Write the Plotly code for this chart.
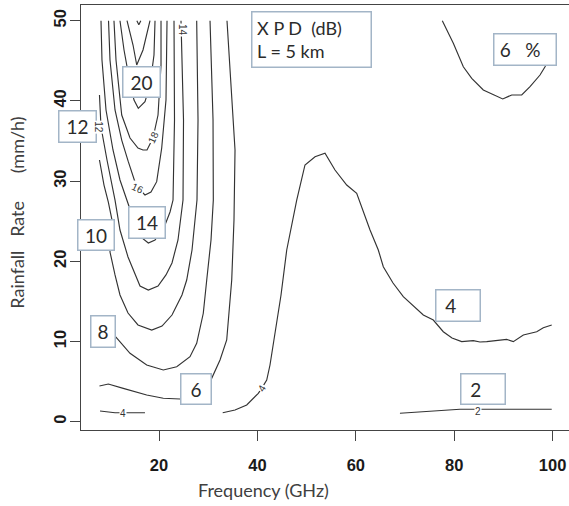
import plotly.graph_objects as go

# ---------------- data (frequency GHz, rain rate mm/h) ----------------
levels = [24, 22, 20, 18, 16, 14, 12, 10, 8, 6, 4, 4, 6, 2]

c24_f = [15.5, 15.9, 16.3]
c24_r = [50.0, 49.5, 50.0]

c22_f = [13.50, 14.72, 15.47, 16.75, 18.17]
c22_r = [50.0, 46.97, 44.48, 46.35, 50.0]

c20_f = [12.07, 12.89, 14.11, 14.92, 15.79, 17.15, 18.17, 18.98, 19.19]
c20_r = [50.0, 46.35, 42.23, 40.11, 39.08, 39.90, 41.98, 45.72, 50.0]

c18_f = [10.85, 11.26, 12.42, 14.11, 15.73, 16.75, 17.56, 18.78, 19.80, 20.41, 20.41]
c18_r = [50.0, 45.10, 38.24, 35.37, 34.13, 33.88, 33.88, 35.37, 38.24, 44.48, 50.0]

c16_f = [9.74, 10.04, 11.06, 12.42, 13.76, 15.12, 16.14, 17.15, 18.37, 19.53, 20.55, 21.42, 21.63]
c16_r = [50.0, 45.10, 38.87, 35.12, 32.42, 29.89, 28.89, 28.27, 28.64, 29.93, 34.13, 40.11, 50.0]

c14_f = [8.21, 8.41, 9.23, 10.65, 12.07, 13.43, 14.51, 16.54, 17.83, 19.19, 21.22, 22.24, 22.85, 23.15, 23.05]
c14_r = [50.0, 45.10, 38.87, 33.88, 30.14, 27.64, 25.77, 22.91, 22.28, 22.66, 24.53, 26.15, 27.64, 37.62, 50.0]

c12_f = [7.9, 8.21, 9.43, 10.45, 11.06, 12.07, 13.70, 16.14, 17.83, 19.80, 21.42, 22.64, 23.86, 24.88, 24.98, 24.47]
c12_r = [40.74, 36.75, 32.63, 29.51, 27.64, 23.90, 20.54, 16.92, 16.42, 16.92, 18.30, 19.79, 22.66, 27.64, 37.62, 50.0]

c10_f = [7.9, 8.82, 9.70, 10.45, 10.24, 10.04, 11.06, 12.07, 13.70, 15.73, 18.52, 20.61, 22.64, 24.67, 25.63, 26.71, 27.72, 27.93, 27.66]
c10_r = [32.63, 29.51, 27.39, 25.15, 23.28, 21.16, 18.30, 15.80, 13.55, 12.06, 11.43, 11.93, 13.30, 15.80, 17.67, 21.41, 27.64, 37.62, 50.0]

c8_f = [7.9, 10.04, 11.40, 14.11, 17.50, 20.87, 23.60, 26.30, 27.66, 29.00, 29.70, 30.57, 31.04, 30.98, 30.37]
c8_r = [12.93, 11.43, 10.40, 8.53, 7.07, 6.45, 6.86, 8.10, 9.78, 13.52, 17.67, 22.66, 27.64, 37.62, 50.0]

c6_f = [7.9, 9.70, 12.74, 17.50, 20.87, 24.27, 27.32, 30.71, 32.40, 33.76, 34.78, 35.24, 35.45, 34.63, 33.82]
c6_r = [4.45, 4.70, 4.16, 3.33, 2.92, 2.83, 3.33, 5.41, 7.69, 10.19, 17.67, 25.15, 33.88, 42.61, 50.0]

c4a_f = [8.01, 11.06, 14.11, 17.15]
c4a_r = [1.33, 1.12, 1.12, 1.12]

c4_f = [32.95, 35.45, 37.83, 39.51, 40.18, 40.87, 41.89, 42.56, 43.58, 44.80, 45.96, 47.99, 49.67, 51.71,
        53.74, 55.77, 58.15, 60.18, 62.89, 64.57, 65.59, 67.56, 69.65, 73.72, 75.75, 77.78, 79.55, 81.52,
        83.88, 85.24, 86.61, 89.31, 90.67, 92.01, 94.05, 96.77, 98.11, 99.82]
c4_r = [1.12, 1.46, 2.08, 3.08, 3.54, 4.16, 5.20, 7.07, 10.81, 15.80, 21.41, 27.64, 32.01, 33.04,
        33.47, 31.38, 29.51, 28.48, 23.90, 21.41, 19.33, 17.29, 15.59, 13.30, 12.68, 11.22, 10.44, 9.98,
        10.10, 9.94, 9.98, 10.19, 10.27, 9.98, 10.81, 11.22, 11.72, 12.06]

c6b_f = [77.58, 79.82, 81.85, 83.56, 85.91, 87.95, 89.86, 91.69, 93.72, 95.41, 97.44, 98.46, 99.6]
c6b_r = [50.0, 47.18, 44.26, 42.82, 41.36, 40.74, 40.24, 40.74, 40.74, 41.77, 43.23, 44.26, 46.0]

c2_f = [68.97, 75.75, 81.18, 87.28, 99.82]
c2_r = [1.05, 1.37, 1.55, 1.55, 1.55]

contours_f = [c24_f, c22_f, c20_f, c18_f, c16_f, c14_f, c12_f, c10_f, c8_f, c6_f, c4a_f, c4_f, c6b_f, c2_f]
contours_r = [c24_r, c22_r, c20_r, c18_r, c16_r, c14_r, c12_r, c10_r, c8_r, c6_r, c4a_r, c4_r, c6b_r, c2_r]

x_ticks = [20, 40, 60, 80, 100]
y_ticks = [0, 10, 20, 30, 40, 50]

# boxed level labels: text, freq, rain, width, height, xanchor
box_text = ["20", "12", "10", "14", "8", "6", "4\u00a0\u00a0\u00a0", "2\u00a0\u00a0\u00a0", "6\u00a0\u00a0\u00a0%\u00a0\u00a0"]
box_f = [16.38, 7.34, 7.24, 17.66, 8.52, 27.42, 80.75, 85.85, 94.45]
box_r = [42.39, 36.78, 23.22, 24.78, 11.22, 4.05, 14.43, 4.10, 46.35]
box_w = [39, 39, 38, 38, 26, 32, 46, 46, 64]
box_h = [32, 33, 32, 33, 33, 32, 33, 32, 33]
box_anchor = ["center", "right", "center", "center", "center", "center", "center", "center", "center"]

# small inline contour labels
lab_text = ["14", "12", "18", "16", "4", "4", "2"]
lab_f = [24.88, 7.80, 18.78, 15.73, 12.62, 40.87, 84.90]
lab_r = [48.84, 36.73, 35.50, 29.14, 1.05, 4.16, 1.25]
lab_angle = [90, 90, -65, 25, 0, -60, 0]

LINE = "#333333"
BOX = "#a3b5c7"
LABEL_FONT = "Lato, 'Open Sans', sans-serif"

fig = go.Figure()
for lev, fx, ry in zip(levels, contours_f, contours_r):
    fig.add_trace(go.Scatter(x=fx, y=ry, mode="lines", name=str(lev),
                             line=dict(color=LINE, width=1.15), hoverinfo="skip",
                             showlegend=False))

annotations = []
for t, fx, ry, w, h, anc in zip(box_text, box_f, box_r, box_w, box_h, box_anchor):
    annotations.append(dict(x=fx, y=ry, xref="x", yref="y", text=t, showarrow=False,
                            xanchor=anc, yanchor="middle",
                            width=w - 3, height=h - 3, borderpad=0,
                            bgcolor="white", bordercolor=BOX, borderwidth=1.5,
                            font=dict(family=LABEL_FONT, size=19, color="#2b2b2b")))

for t, fx, ry, a in zip(lab_text, lab_f, lab_r, lab_angle):
    annotations.append(dict(x=fx, y=ry, xref="x", yref="y", text=t, showarrow=False,
                            textangle=a, bgcolor="white", borderpad=0,
                            font=dict(family="Liberation Sans, Arial", size=10, color="#333")))

# title box
annotations.append(dict(x=50.94, y=47.70, xref="x", yref="y",
                        text="\u00a0X P D\u00a0\u00a0(dB)<br>\u00a0L = 5 km",
                        showarrow=False, align="left", width=118, height=54, borderpad=0,
                        xanchor="center", yanchor="middle",
                        bgcolor="white", bordercolor=BOX, borderwidth=1.5,
                        font=dict(family=LABEL_FONT, size=18, color="#2b2b2b")))

# axis titles
annotations.append(dict(x=0.3746, y=-0.1412, xref="paper", yref="paper",
                        xanchor="center", yanchor="middle",
                        text="Frequency (GHz)", showarrow=False,
                        font=dict(family=LABEL_FONT, size=18, color="#404040")))
annotations.append(dict(x=-0.1318, y=0.5106, xref="paper", yref="paper",
                        xanchor="center", yanchor="middle",
                        text="Rainfall\u00a0\u00a0\u00a0Rate\u00a0\u00a0\u00a0\u00a0\u00a0\u00a0(mm/h)",
                        textangle=-90, showarrow=False,
                        font=dict(family=LABEL_FONT, size=18, color="#404040")))

tickfont = dict(family="Liberation Sans, Arial", size=16.5, color="#1a1a1a", weight="bold")

fig.update_layout(
    width=569, height=506, autosize=False,
    margin=dict(l=81, r=0, t=5, b=76),
    paper_bgcolor="white", plot_bgcolor="white",
    annotations=annotations,
    xaxis=dict(range=[4.146, 103.33], tickvals=x_ticks, ticks="outside", ticklen=10,
               tickwidth=1.2, tickcolor="#444", showline=True, mirror=True,
               linecolor="#444", linewidth=1.3, showgrid=False, zeroline=False,
               tickfont=tickfont, ticklabelstandoff=10),
    yaxis=dict(range=[-1.035, 51.96], tickvals=y_ticks, ticks="outside", ticklen=10,
               tickwidth=1.2, tickcolor="#444", showline=True, mirror=False,
               linecolor="#444", linewidth=1.3, showgrid=False, zeroline=False,
               tickangle=-90, tickfont=tickfont, ticklabelstandoff=-3),
)

fig.write_html("out.html")
